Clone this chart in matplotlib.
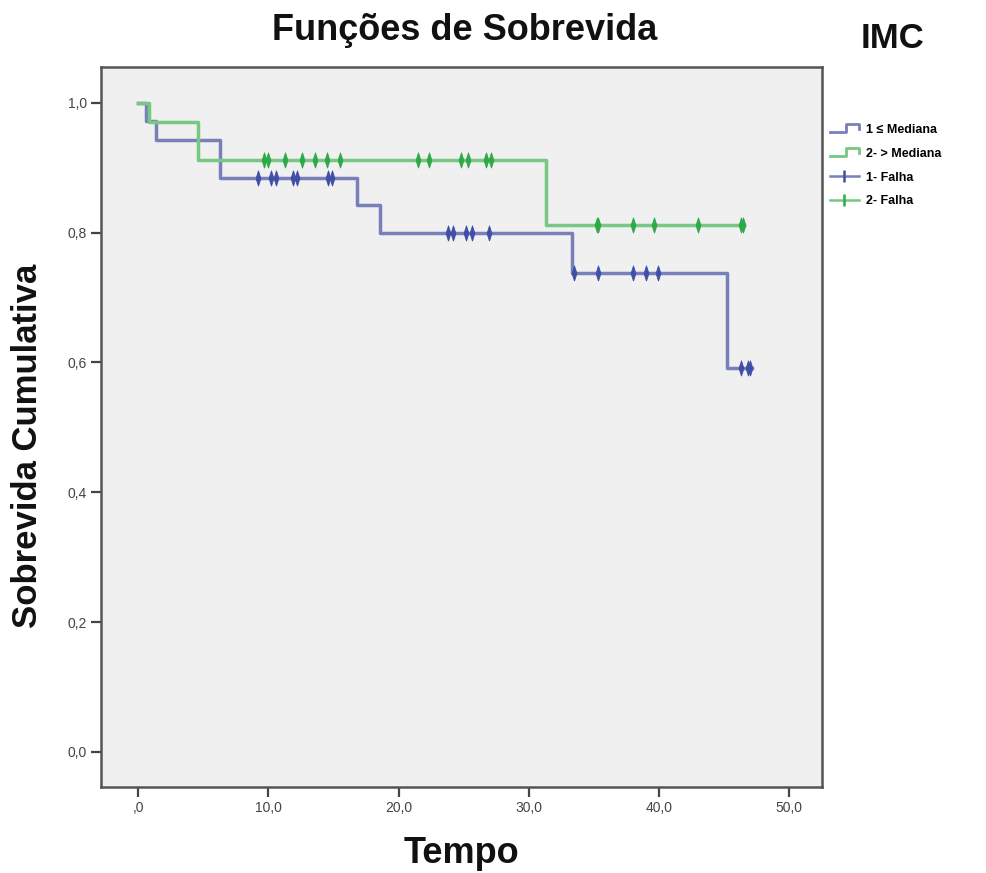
import matplotlib
matplotlib.use("Agg")
import matplotlib.pyplot as plt
import numpy as np
from matplotlib.legend_handler import HandlerBase
from matplotlib.lines import Line2D

plt.rcParams["font.family"] = ["Liberation Sans", "DejaVu Sans"]

# Kaplan-Meier step curves (time at which each level starts, survival level)
blue_times = [0, 0.6, 1.4, 6.3, 16.8, 18.6, 33.3, 45.2, 47.1]
blue_surv = [1.0, 0.971, 0.942, 0.884, 0.842, 0.800, 0.738, 0.592, 0.592]
green_times = [0, 0.8, 4.6, 31.3, 46.5]
green_surv = [1.0, 0.970, 0.912, 0.812, 0.812]

# censored observations
blue_cens = [9.2, 10.2, 10.6, 11.9, 12.2, 14.6, 14.9, 23.8, 24.2, 25.2, 25.6,
             26.9, 33.5, 35.3, 38.0, 39.0, 39.9, 46.3, 46.8, 47.0]
green_cens = [9.7, 10.0, 11.3, 12.6, 13.6, 14.5, 15.5, 21.5, 22.3, 24.8, 25.3,
              26.7, 27.1, 35.2, 35.3, 38.0, 39.6, 43.0, 46.3, 46.4]

x_ticks = [0, 10, 20, 30, 40, 50]
x_ticklabels = [",0", "10,0", "20,0", "30,0", "40,0", "50,0"]
y_ticks = [0.0, 0.2, 0.4, 0.6, 0.8, 1.0]
y_ticklabels = ["0,0", "0,2", "0,4", "0,6", "0,8", "1,0"]

labels = ["1 ≤ Mediana", "2- > Mediana", "1- Falha", "2- Falha"]

blue_line, blue_mark = "#7880BC", "#3F4FA6"
green_line, green_mark = "#78C884", "#2FA84A"

# slim diamond used for censor ticks
cens_marker = [(0, -1), (0.32, 0), (0, 1), (-0.32, 0), (0, -1)]


def surv_at(times, surv, t):
    idx = np.searchsorted(times, t, side="right") - 1
    return np.asarray(surv)[idx]


class StepHandler(HandlerBase):
    """Small step-shaped legend icon."""

    def create_artists(self, legend, orig_handle, xdescent, ydescent,
                       width, height, fontsize, trans):
        x0, w = -xdescent, width
        lo, hi = -ydescent + 0.1 * height, -ydescent + 0.95 * height
        xs = [x0, x0 + 0.55 * w, x0 + 0.55 * w, x0 + w, x0 + w]
        ys = [lo, lo, hi, hi, 0.45 * (hi + lo)]
        line = Line2D(xs, ys, color=orig_handle.get_color(),
                      lw=orig_handle.get_linewidth(), transform=trans)
        return [line]


fig = plt.figure(figsize=(9.87, 8.73), dpi=100)
ax = fig.add_axes([0.1023, 0.0985, 0.7305, 0.8248])
ax.set_facecolor("#F0F0F0")

ax.step(blue_times, blue_surv, where="post", color=blue_line, lw=2.5)
ax.step(green_times, green_surv, where="post", color=green_line, lw=2.5)
ax.plot(blue_cens, surv_at(blue_times, blue_surv, blue_cens), ls="none",
        marker=cens_marker, ms=11, mew=0.6, color=blue_mark)
ax.plot(green_cens, surv_at(green_times, green_surv, green_cens), ls="none",
        marker=cens_marker, ms=11, mew=0.6, color=green_mark)

ax.set_xlim(-2.85, 52.5)
ax.set_ylim(-0.054, 1.055)
ax.set_xticks(x_ticks)
ax.set_xticklabels(x_ticklabels)
ax.set_yticks(y_ticks)
ax.set_yticklabels(y_ticklabels)
ax.tick_params(direction="out", length=7, width=1.6, color="#444",
               labelsize=10, labelcolor="#444", pad=3)
for sp in ax.spines.values():
    sp.set_color("#555")
    sp.set_linewidth(1.8)

ax.set_xlabel("Tempo", fontsize=26, fontweight="bold", color="#111")
ax.xaxis.set_label_coords(0.50, -0.068)
ax.set_ylabel("Sobrevida Cumulativa", fontsize=25, fontweight="bold",
              color="#111")
ax.yaxis.set_label_coords(-0.079, 0.474)

fig.text(465 / 987, 1 - 31 / 873, "Funções de Sobrevida", fontsize=26,
         fontweight="bold", color="#111", ha="center", va="center")
fig.text(893 / 987, 1 - 38 / 873, "IMC", fontsize=25, fontweight="bold",
         color="#111", ha="center", va="center")

h3 = Line2D([], [], color=blue_line, lw=1.8, marker="|", ms=9, mew=1.8,
            markeredgecolor=blue_mark, markevery=[1], ls="-")
h4 = Line2D([], [], color=green_line, lw=1.8, marker="|", ms=9, mew=1.8,
            markeredgecolor=green_mark, markevery=[1], ls="-")
h1 = Line2D([], [], color=blue_line, lw=2.0)
h2 = Line2D([], [], color=green_line, lw=2.0)
ax.legend([h1, h2, h3, h4], labels, loc="upper left",
          bbox_to_anchor=(1.004, 0.928), frameon=False,
          handlelength=2.3, handletextpad=0.6, labelspacing=0.95,
          borderaxespad=0, prop={"weight": "bold", "size": 9},
          handler_map={h1: StepHandler(), h2: StepHandler()})

fig.savefig("out.png", dpi=100)
